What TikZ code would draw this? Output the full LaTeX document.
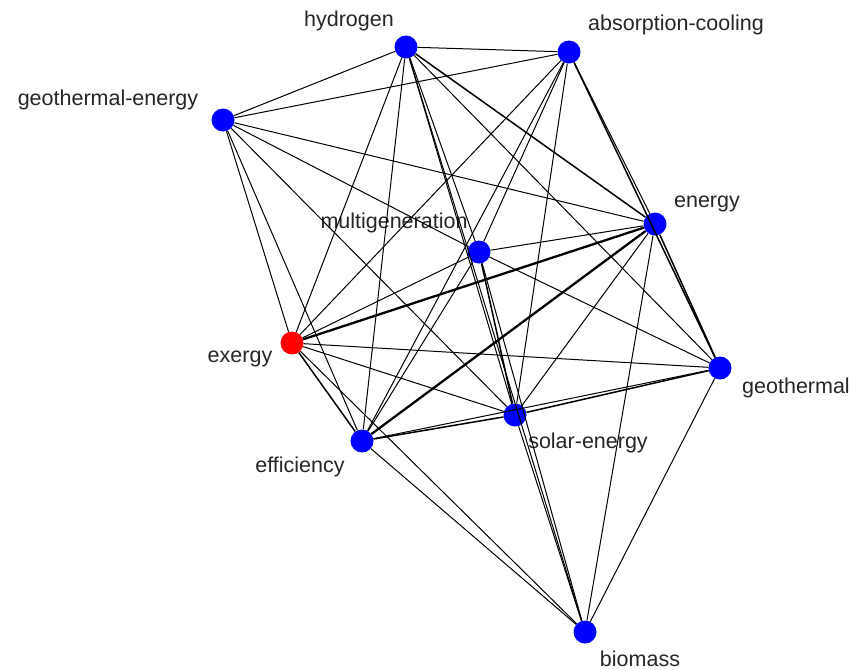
\documentclass[tikz,border=0pt]{standalone}
\usepackage{fontspec}
\setmainfont{Liberation Sans}
\usepackage{tikz}

\begin{document}
\begin{tikzpicture}[x=1pt, y=-1pt,
        kw/.style={circle, fill=blue, minimum size=23pt, inner sep=0pt},
        lbl/.style={font=\fontsize{21.5}{24}\selectfont, inner sep=0pt, text=black!85},
        edge/.style={line width=1pt},
        heavy/.style={line width=1.5pt},
        heavier/.style={line width=2.3pt}]
        \useasboundingbox (0,0) rectangle (855,670);
        \node[kw] (hyd) at (406,47) {};
        \node[kw] (abs) at (569,52) {};
        \node[kw] (geo) at (223,120) {};
        \node[kw] (ene) at (655,224) {};
        \node[kw] (mul) at (479,252) {};
        \node[kw, fill=red] (exe) at (292,343) {};
        \node[kw] (gth) at (720,368) {};
        \node[kw] (sol) at (515,415) {};
        \node[kw] (eff) at (362,441) {};
        \node[kw] (bio) at (585,632) {};
        \node[lbl] (hyd-l) at (349,21) {hydrogen};
        \node[lbl] (abs-l) at (676,25) {absorption-cooling};
        \node[lbl] (geo-l) at (108,100) {geothermal-energy};
        \node[lbl] (ene-l) at (707,204) {energy};
        \node[lbl] (mul-l) at (394,223) {multigeneration};
        \node[lbl] (exe-l) at (240,359) {exergy};
        \node[lbl] (gth-l) at (796,388) {geothermal};
        \node[lbl] (sol-l) at (588,443) {solar-energy};
        \node[lbl] (eff-l) at (300,467) {efficiency};
        \node[lbl] (bio-l) at (640,659) {biomass};
        % co-occurrence links
        \foreach \a/\b in {hyd/abs, hyd/geo, hyd/mul, hyd/exe, hyd/gth, hyd/sol,
            hyd/eff, hyd/bio, abs/geo, abs/ene, abs/mul, abs/exe, abs/sol, abs/eff,
            geo/ene, geo/mul, geo/exe, geo/sol, geo/eff, ene/mul, ene/sol, ene/bio,
            mul/exe, mul/gth, mul/eff, mul/bio, exe/gth, exe/sol, exe/bio,
            gth/eff, gth/bio, sol/bio, eff/bio}
            \draw[edge] (\a) -- (\b);
        \foreach \a/\b in {hyd/ene, abs/gth, ene/gth, mul/sol, exe/eff, sol/gth, eff/sol}
            \draw[heavy] (\a) -- (\b);
        \draw[heavier] (exe) -- (ene);
        \draw[heavier] (eff) -- (ene);
\end{tikzpicture}
\end{document}
